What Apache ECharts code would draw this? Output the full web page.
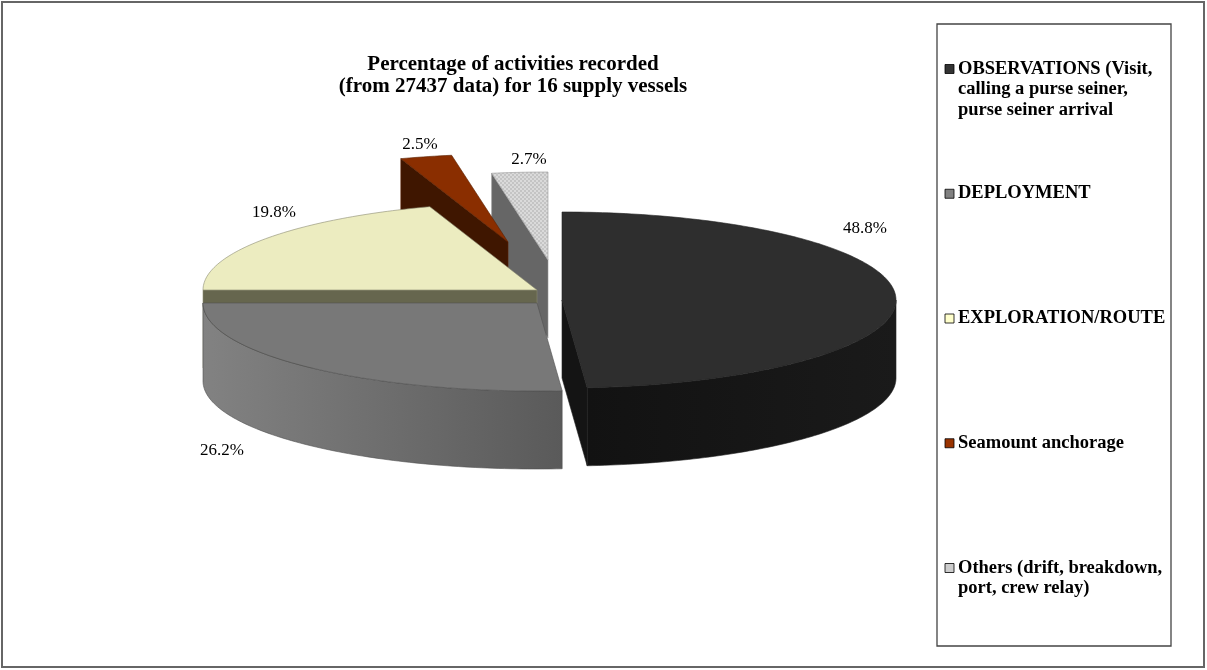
<!DOCTYPE html>
<html><head><meta charset="utf-8">
<script src="https://cdn.jsdelivr.net/npm/echarts@6/dist/echarts.min.js"></script>
<style>html,body{margin:0;padding:0;background:#fff}#c{width:1207px;height:670px}</style>
</head><body><div id="c"></div>
<script>
// ---- data ----
const categories = [
  'OBSERVATIONS (Visit,\ncalling a purse seiner,\npurse seiner arrival',
  'DEPLOYMENT',
  'EXPLORATION/ROUTE',
  'Seamount anchorage',
  'Others (drift, breakdown,\nport, crew relay)'
];
const values = [48.8, 26.2, 19.8, 2.5, 2.7];
const pctLabels = ['48.8%', '26.2%', '19.8%', '2.5%', '2.7%'];
const titleLines = ['Percentage of activities recorded', '(from 27437 data) for 16 supply vessels'];

// ---- styles / layout ----
const FONT = '"Liberation Serif", "Times New Roman", serif';
const G = { cx: 546, cy: 297, rx: 334, ry: 88, depth: 78 };
const explode = [[16, 3], [-9, 6], [-9, -7], [-38, -55], [2, -37]];
const labelOffset = [[303, -71], [-315, 148], [-263, -77], [-88, -97], [-19, -100]];
const topColors = ['#2e2e2e', '#787878', '#ececc0', '#8a2e00', null];
const wallColors = [['#121212', '#1a1a1a'], ['#828282', '#5a5a5a'], ['#66664e', '#66664e'], ['#3f1600', '#3f1600'], ['#6a6a6a', '#626262']];
const faceColors = ['#141414', '#6a6a6a', '#66664e', '#3f1600', '#666666'];
const edgeColors = ['#222', '#505050', '#8a8a70', '#5a2000', '#999'];
const legendColors = ['#333333', '#808080', '#ffffcc', '#993300', '#cccccc'];

// fine texture for "Others"
const pc = document.createElement('canvas');
pc.width = 4; pc.height = 4;
const pctx = pc.getContext('2d');
pctx.fillStyle = '#c4c4c4'; pctx.fillRect(0, 0, 4, 4);
pctx.fillStyle = '#dadada'; pctx.fillRect(0, 0, 2, 2); pctx.fillRect(2, 2, 2, 2);
const othersPattern = { image: pc, repeat: 'repeat' };

const total = values.reduce((s, v) => s + v, 0);
const starts = [];
values.reduce((acc, v, i) => { starts[i] = acc; return acc + v; }, 0);
// drawing order: back slices first
const mids = values.map((v, i) => (starts[i] + v / 2) / total * 2 * Math.PI);
const order = mids.map((m, i) => i).sort((p, q) => Math.cos(mids[q]) - Math.cos(mids[p]));
const rank = []; order.forEach((idx, r) => { rank[idx] = r; });

function renderItem(params, api) {
  const i = params.dataIndex;
  const v = api.value(0), s = api.value(1);
  const a = s / total * 360, b = (s + v) / total * 360;
  const c = [G.cx + explode[i][0], G.cy + explode[i][1]];
  const P = (t, r, h) => {
    const rad = t * Math.PI / 180;
    return [c[0] + G.rx * r * Math.sin(rad), c[1] - G.ry * r * Math.cos(rad) + (h || 0)];
  };
  const arc = (t0, t1, h) => {
    const n = Math.max(2, Math.ceil(Math.abs(t1 - t0)));
    const pts = [];
    for (let k = 0; k <= n; k++) pts.push(P(t0 + (t1 - t0) * k / n, 1, h));
    return pts;
  };
  const z = rank[i] * 10;
  const children = [];
  const lo = Math.max(a, 90), hi = Math.min(b, 270);
  if (hi > lo) {
    children.push({
      type: 'polygon', z2: z,
      shape: { points: arc(lo, hi, 0).concat(arc(hi, lo, G.depth)) },
      style: {
        fill: new echarts.graphic.LinearGradient(0, 0, 1, 0, [
          { offset: 0, color: wallColors[i][0] }, { offset: 1, color: wallColors[i][1] }]),
        stroke: edgeColors[i], lineWidth: 0.6
      }
    });
  }
  const face = t => [P(t, 0, 0), P(t, 1, 0), P(t, 1, G.depth), P(t, 0, G.depth)];
  if (a > 180 && a < 360) children.push({ type: 'polygon', z2: z + 1, shape: { points: face(a) }, style: { fill: faceColors[i], stroke: edgeColors[i], lineWidth: 0.6 } });
  if (b > 0 && b < 180) children.push({ type: 'polygon', z2: z + 1, shape: { points: face(b) }, style: { fill: faceColors[i], stroke: edgeColors[i], lineWidth: 0.6 } });
  children.push({
    type: 'polygon', z2: z + 2,
    shape: { points: [P(0, 0, 0)].concat(arc(a, b, 0)) },
    style: { fill: topColors[i] || othersPattern, stroke: edgeColors[i], lineWidth: 0.6 }
  });
  children.push({
    type: 'text', z2: 200,
    x: c[0] + labelOffset[i][0], y: c[1] + labelOffset[i][1],
    style: { text: pctLabels[i], fill: '#000', font: '17px ' + FONT, align: 'center', verticalAlign: 'middle' }
  });
  return { type: 'group', children };
}

// legend + frame as graphics
const legendTop = 69, legendGap = 124.75;
const graphics = [
  { type: 'rect', shape: { x: 2, y: 2, width: 1202, height: 665 }, style: { fill: 'none', stroke: '#666', lineWidth: 2 }, silent: true },
  { type: 'rect', shape: { x: 937, y: 24, width: 234, height: 622 }, style: { fill: 'none', stroke: '#444', lineWidth: 1.3 }, silent: true },
  { type: 'text', x: 513, y: 54, style: { text: titleLines.join('\n'), font: 'bold 21px ' + FONT, lineHeight: 22, fill: '#000', align: 'center', verticalAlign: 'top' } }
];
categories.forEach((name, i) => {
  const y = legendTop + i * legendGap;
  graphics.push({ type: 'rect', shape: { x: 945, y: y - 4.5, width: 9, height: 9 }, style: { fill: legendColors[i], stroke: '#000', lineWidth: 0.8 } });
  graphics.push({ type: 'text', x: 958, y: y - 10.5, style: { text: name, font: 'bold 18.5px ' + FONT, lineHeight: 20.5, fill: '#000', align: 'left', verticalAlign: 'top' } });
});

const chart = echarts.init(document.getElementById('c'));
chart.setOption({
  backgroundColor: '#fff',
  animation: false,
  graphic: graphics,
  series: [{
    type: 'custom',
    coordinateSystem: 'none',
    renderItem: renderItem,
    data: values.map((v, i) => ({ name: categories[i], value: [v, starts[i]] }))
  }]
});
</script></body></html>
